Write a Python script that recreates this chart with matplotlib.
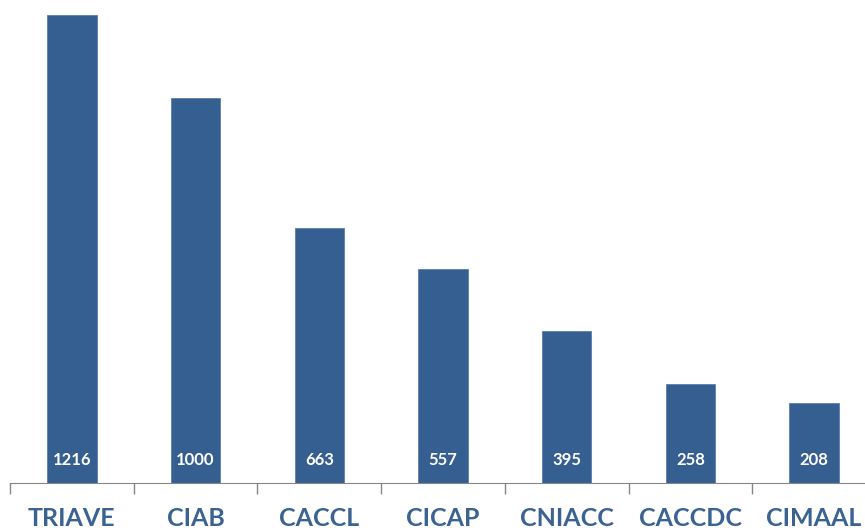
import matplotlib.pyplot as plt
import numpy as np

categories = ['TRIAVE', 'CIAB', 'CACCL', 'CICAP', 'CNIACC', 'CACCDC', 'CIMAAL']
values = [1216, 1000, 663, 557, 395, 258, 208]

bar_color = '#365F91'
label_color = '#3B6392'

fig = plt.figure(figsize=(8.65, 5.32), dpi=100)
ax = fig.add_axes([10 / 865, 49 / 532, 866 / 865, 483 / 532])

x = np.arange(len(categories))
ax.bar(x, values, width=0.4, color=bar_color, edgecolor='#5A7FAD', linewidth=0.6)

for xi, v in zip(x, values):
    ax.text(xi, 60, str(v), ha='center', va='center', color='white',
            fontsize=12, fontweight='bold', family='Lato')

ax.set_xlim(-0.5, len(categories) - 0.5)
ax.set_ylim(0, 1255)

ax.set_xticks(x)
ax.set_xticklabels(categories, fontsize=18, fontweight='bold',
                   color=label_color, family='Lato')
ax.tick_params(axis='x', which='major', length=0, pad=17)
ax.set_xticks(np.arange(-0.5, len(categories), 1), minor=True)
ax.tick_params(axis='x', which='minor', length=8, color='#868686', width=1)

ax.set_yticks([])
for side in ['top', 'right', 'left']:
    ax.spines[side].set_visible(False)
ax.spines['bottom'].set_color('#868686')

fig.savefig('out.png', dpi=100)
